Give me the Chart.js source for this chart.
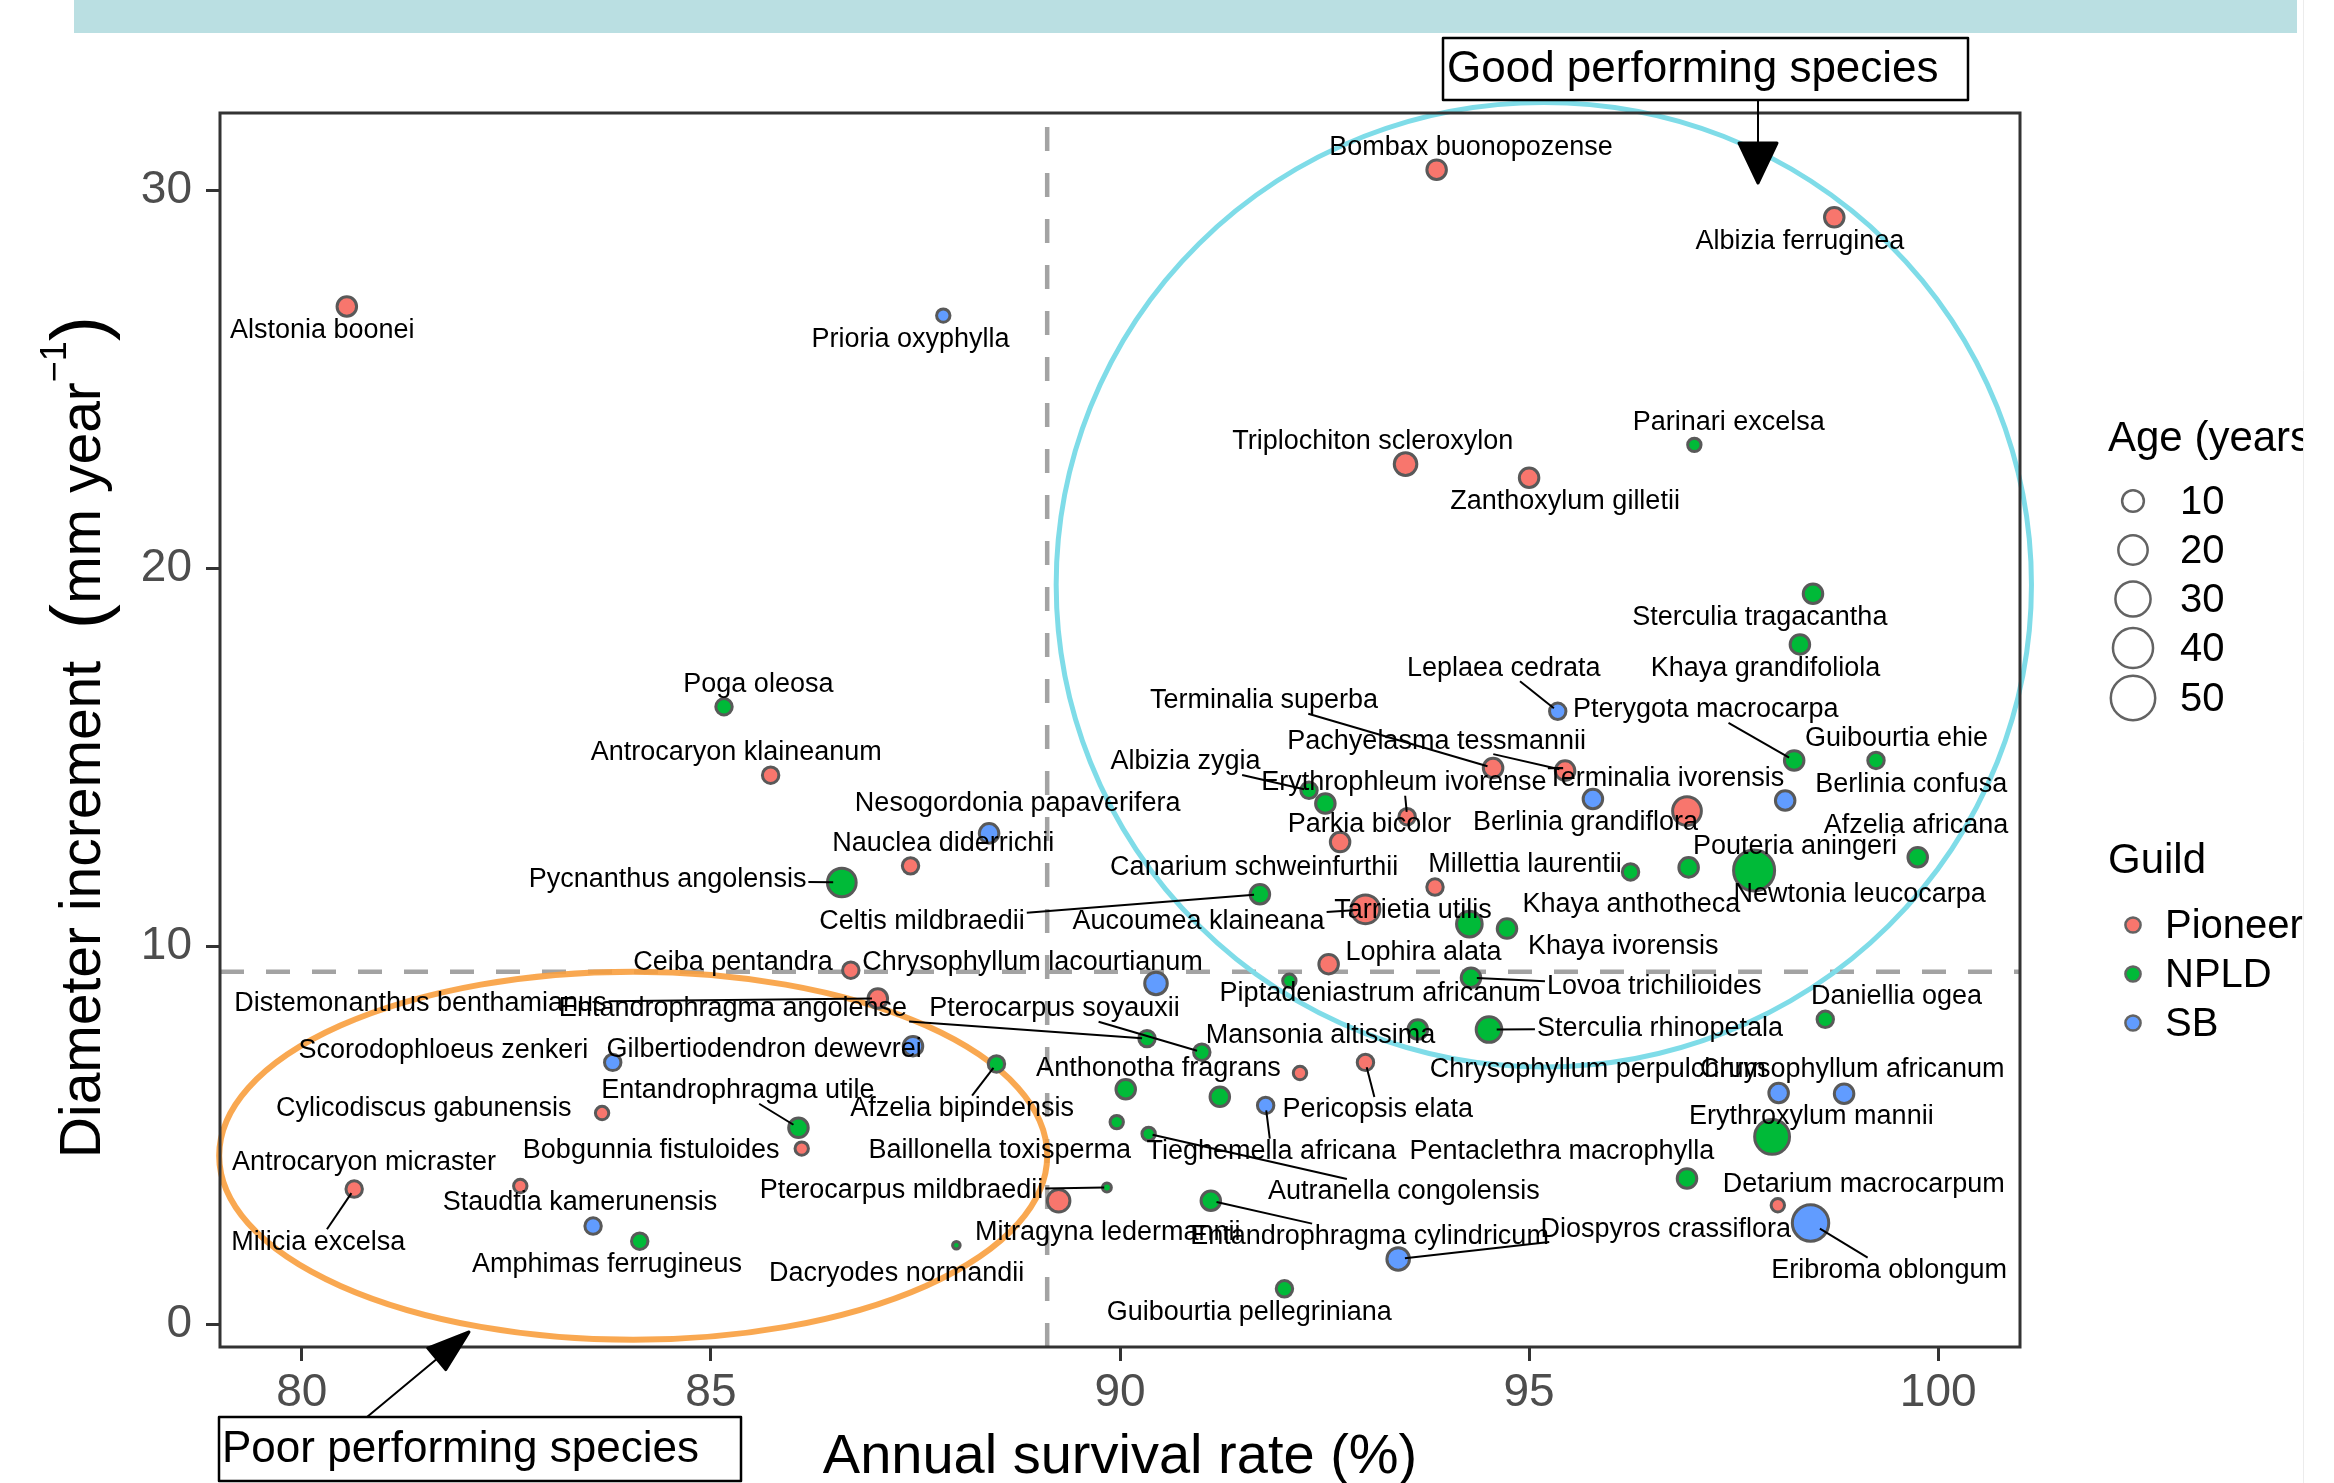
<!DOCTYPE html>
<html>
<head>
<meta charset="utf-8">
<script src="https://cdn.jsdelivr.net/npm/chart.js@4.4.1/dist/chart.umd.min.js"></script>
<style>
  html, body { margin: 0; padding: 0; background: #fff; }
</style>
</head>
<body>
<canvas id="growthChart" width="2334" height="1483"></canvas>
<script>
// species data
const species = [
  "Alstonia boonei", "Prioria oxyphylla", "Bombax buonopozense", "Albizia ferruginea", "Triplochiton scleroxylon",
  "Zanthoxylum gilletii", "Parinari excelsa", "Sterculia tragacantha", "Khaya grandifoliola", "Poga oleosa",
  "Antrocaryon klaineanum", "Nesogordonia papaverifera", "Nauclea diderrichii", "Pycnanthus angolensis", "Ceiba pentandra",
  "Distemonanthus benthamianus", "Entandrophragma angolense", "Pterocarpus soyauxii", "Mansonia altissima", "Sterculia rhinopetala",
  "Daniellia ogea", "Chrysophyllum lacourtianum", "Piptadeniastrum africanum", "Lophira alata", "Lovoa trichilioides",
  "Aucoumea klaineana", "Tarrietia utilis", "Khaya anthotheca", "Millettia laurentii", "Khaya ivorensis",
  "Pouteria aningeri", "Newtonia leucocarpa", "Afzelia africana", "Celtis mildbraedii", "Albizia zygia",
  "Canarium schweinfurthii", "Erythrophleum ivorense", "Parkia bicolor", "Terminalia superba", "Pachyelasma tessmannii",
  "Berlinia grandiflora", "Terminalia ivorensis", "Berlinia confusa", "Leplaea cedrata", "Pterygota macrocarpa",
  "Guibourtia ehie", "Gilbertiodendron dewevrei", "Scorodophloeus zenkeri", "Afzelia bipindensis", "Cylicodiscus gabunensis",
  "Entandrophragma utile", "Bobgunnia fistuloides", "Milicia excelsa", "Antrocaryon micraster", "Staudtia kamerunensis",
  "Amphimas ferrugineus", "Dacryodes normandii", "Mitragyna ledermannii", "Pterocarpus mildbraedii", "Anthonotha fragrans",
  "Baillonella toxisperma", "", "Pentaclethra macrophylla", "Pericopsis elata", "Tieghemella africana",
  "Autranella congolensis", "Entandrophragma cylindricum", "Guibourtia pellegriniana", "Diospyros crassiflora", "Detarium macrocarpum",
  "", "Eribroma oblongum", "Erythroxylum mannii", "Chrysophyllum perpulchrum", "Chrysophyllum africanum"
];
const survival = [
  80.55, 87.84, 93.87, 98.73, 93.49, 95.00, 97.02, 98.47, 98.31, 85.16,
  85.73, 88.40, 87.44, 86.60, 86.71, 87.04, 90.33, 91.00, 93.64, 94.51,
  98.62, 90.44, 92.07, 92.55, 94.29, 93.00, 94.27, 94.73, 93.85, 96.24,
  96.95, 97.75, 99.75, 91.71, 92.31, 92.51, 93.51, 92.69, 94.56, 95.44,
  95.78, 96.93, 98.13, 95.35, 98.24, 99.24, 87.47, 83.80, 88.49, 83.67,
  86.07, 86.11, 80.64, 82.67, 83.56, 84.13, 88.00, 89.25, 89.84, 90.07,
  89.96, 91.22, 92.20, 93.00, 91.78, 90.35, 91.11, 92.01, 93.40, 96.93,
  98.04, 98.44, 97.97, 98.05, 98.85
];
const diameter = [
  26.93, 26.69, 30.55, 29.29, 22.76, 22.40, 23.27, 19.33, 17.99, 16.34,
  14.53, 12.99, 12.13, 11.69, 9.37, 8.62, 7.56, 7.20, 7.80, 7.80,
  8.07, 9.02, 9.09, 9.53, 9.17, 10.98, 10.59, 10.47, 11.57, 11.97,
  12.09, 12.01, 12.36, 11.38, 14.13, 13.78, 13.43, 12.76, 14.72, 14.65,
  13.90, 13.58, 13.86, 16.22, 14.92, 14.92, 7.36, 6.93, 6.89, 5.59,
  5.20, 4.65, 3.58, 3.66, 2.60, 2.20, 2.09, 3.27, 3.62, 6.22,
  5.35, 6.02, 6.65, 6.93, 5.79, 5.04, 3.27, 0.94, 1.73, 3.86,
  3.15, 2.68, 4.96, 6.12, 6.10
];
const ageYears = [
  6.8, 2.4, 6.8, 6.8, 9.8, 6.8, 2.4, 6.8, 6.8, 4.3,
  4.3, 6.8, 4.3, 17.6, 4.3, 6.8, 4.3, 4.3, 6.8, 13.4,
  4.3, 9.8, 2.4, 6.8, 6.8, 17.6, 13.4, 6.8, 4.3, 4.3,
  6.8, 39.9, 6.8, 6.8, 4.3, 6.8, 4.3, 6.8, 6.8, 6.8,
  6.8, 17.6, 6.8, 4.3, 6.8, 4.3, 6.8, 4.3, 4.3, 2.4,
  6.8, 2.4, 4.3, 2.4, 4.3, 4.3, 0.3, 9.8, 0.6, 6.8,
  2.4, 6.8, 2.4, 4.3, 4.3, 2.4, 6.8, 4.3, 9.8, 6.8,
  2.4, 30.5, 27.6, 6.8, 6.8
];
const guild = [
  "Pioneer", "SB", "Pioneer", "Pioneer", "Pioneer", "Pioneer", "NPLD", "NPLD", "NPLD", "NPLD",
  "Pioneer", "SB", "Pioneer", "NPLD", "Pioneer", "Pioneer", "NPLD", "NPLD", "NPLD", "NPLD",
  "NPLD", "SB", "NPLD", "Pioneer", "NPLD", "Pioneer", "NPLD", "NPLD", "Pioneer", "NPLD",
  "NPLD", "NPLD", "NPLD", "NPLD", "NPLD", "NPLD", "Pioneer", "Pioneer", "Pioneer", "Pioneer",
  "SB", "Pioneer", "SB", "SB", "NPLD", "NPLD", "SB", "SB", "NPLD", "Pioneer",
  "NPLD", "Pioneer", "Pioneer", "Pioneer", "SB", "NPLD", "NPLD", "Pioneer", "NPLD", "NPLD",
  "NPLD", "NPLD", "Pioneer", "Pioneer", "SB", "NPLD", "NPLD", "NPLD", "SB", "NPLD",
  "Pioneer", "SB", "NPLD", "SB", "SB"
];

// where each species name sits (data units), and whether a leader line is drawn
const labelX = [
  80.25, 87.44, 94.29, 98.31, 93.09, 95.44, 97.44, 97.82, 97.89, 85.58,
  85.31, 88.75, 87.84, 84.47, 85.27, 81.45, 85.27, 89.20, 92.45, 96.60,
  99.49, 88.93, 93.18, 93.71, 96.53, 90.96, 93.58, 96.25, 94.95, 96.15,
  98.25, 99.04, 99.73, 87.58, 90.80, 91.64, 93.47, 93.05, 91.76, 93.87,
  95.69, 96.67, 99.67, 94.69, 97.16, 99.49, 85.65, 81.73, 88.07, 81.49,
  85.33, 84.27, 80.20, 80.76, 83.40, 83.73, 87.27, 89.85, 87.33, 90.47,
  88.53, 0, 95.40, 93.15, 91.85, 93.47, 93.05, 91.58, 96.67, 99.09,
  0, 99.40, 98.45, 95.84, 98.95
];
const labelY = [
  26.30, 26.06, 31.14, 28.66, 23.35, 21.77, 23.86, 18.70, 17.36, 16.93,
  15.12, 13.78, 12.72, 11.77, 9.57, 8.50, 8.35, 8.35, 7.64, 7.83,
  8.66, 9.57, 8.74, 9.84, 8.94, 10.67, 10.94, 11.10, 12.17, 10.00,
  12.64, 11.38, 13.19, 10.67, 14.88, 12.09, 14.33, 13.23, 16.50, 15.43,
  13.27, 14.45, 14.29, 17.36, 16.26, 15.51, 7.28, 7.24, 5.71, 5.71,
  6.18, 4.61, 2.17, 4.29, 3.23, 1.57, 1.34, 2.44, 3.54, 6.77,
  4.61, 0, 4.57, 5.67, 4.57, 3.50, 2.32, 0.31, 2.52, 3.70,
  0, 1.42, 5.51, 6.73, 6.73
];
const leaderLine = [
  0, 0, 0, 0, 0, 0, 0, 0, 0, 0,
  0, 0, 0, 1, 0, 1, 1, 1, 0, 1,
  0, 0, 0, 0, 1, 1, 0, 0, 0, 0,
  0, 0, 0, 1, 1, 0, 1, 0, 1, 1,
  0, 0, 0, 1, 1, 0, 0, 0, 1, 0,
  1, 0, 1, 0, 0, 0, 0, 0, 1, 0,
  0, 0, 0, 1, 1, 1, 1, 0, 1, 0,
  0, 1, 0, 0, 0
];

const xTicks = [80, 85, 90, 95, 100];
const yTicks = [0, 10, 20, 30];
const guildNames = ["Pioneer", "NPLD", "SB"];
const ageBreaks = [10, 20, 30, 40, 50];
const survivalCut = 89.11;
const diameterCut = 9.33;

const FONT = "'Liberation Sans', Arial, Helvetica, sans-serif";
const guildColors = { Pioneer: "#F8766D", NPLD: "#00BA38", SB: "#619CFF" };
const edgeGrey = "#595959";

function sizeFor(a) {
  return 2.2 + 2.9 * Math.sqrt(a);
}

const datasets = guildNames.map((g) => ({
  label: g,
  data: species
    .map((s, i) => ({ x: survival[i], y: diameter[i], age: ageYears[i], idx: i }))
    .filter((d) => guild[d.idx] === g),
  backgroundColor: guildColors[g],
  borderColor: edgeGrey,
  borderWidth: 3,
  pointRadius: (ctx) => (ctx.raw ? sizeFor(ctx.raw.age) : 5),
  pointHoverRadius: (ctx) => (ctx.raw ? sizeFor(ctx.raw.age) : 5)
}));

function arrowHead(ctx, x0, y0, x1, y1, len, half) {
  const a = Math.atan2(y1 - y0, x1 - x0);
  const bx = x1 - len * Math.cos(a), by = y1 - len * Math.sin(a);
  ctx.beginPath();
  ctx.moveTo(x1, y1);
  ctx.lineTo(bx + half * Math.sin(a), by - half * Math.cos(a));
  ctx.lineTo(bx - half * Math.sin(a), by + half * Math.cos(a));
  ctx.closePath();
  ctx.fill();
  ctx.stroke();
}

const decor = {
  id: "decor",
  beforeDraw(chart) {
    const ctx = chart.ctx;
    ctx.save();
    ctx.fillStyle = "#ffffff";
    ctx.fillRect(0, 0, chart.width, chart.height);
    ctx.fillStyle = "#BADFE2";
    ctx.fillRect(74, 0, 2223, 33);
    ctx.strokeStyle = "#ECECEC";
    ctx.lineWidth = 1;
    ctx.beginPath();
    ctx.moveTo(2303.5, 0);
    ctx.lineTo(2303.5, chart.height);
    ctx.stroke();
    ctx.restore();
  },
  beforeDatasetsDraw(chart) {
    const { ctx, chartArea: a, scales: { x, y } } = chart;
    ctx.save();
    ctx.strokeStyle = "#A3A3A3";
    ctx.lineWidth = 4.5;
    ctx.setLineDash([24, 22]);
    ctx.beginPath();
    ctx.moveTo(x.getPixelForValue(survivalCut), a.bottom);
    ctx.lineTo(x.getPixelForValue(survivalCut), a.top);
    ctx.moveTo(a.left, y.getPixelForValue(diameterCut));
    ctx.lineTo(a.right, y.getPixelForValue(diameterCut));
    ctx.stroke();
    ctx.setLineDash([]);

    // good / poor performer groupings
    const rings = [
      { cx: 95.18, cy: 19.57, rx: 5.96, ry: 12.76, color: "#7FDCE8", w: 5 },
      { cx: 84.05, cy: 4.46, rx: 5.06, ry: 4.87, color: "rgba(248,158,62,0.9)", w: 6 }
    ];
    rings.forEach((r) => {
      const px = x.getPixelForValue(r.cx), py = y.getPixelForValue(r.cy);
      const rx = x.getPixelForValue(r.cx + r.rx) - px;
      const ry = py - y.getPixelForValue(r.cy + r.ry);
      ctx.strokeStyle = r.color;
      ctx.lineWidth = r.w;
      ctx.beginPath();
      ctx.ellipse(px, py, rx, ry, 0, 0, Math.PI * 2);
      ctx.stroke();
    });
    ctx.restore();
  },
  afterDatasetsDraw(chart) {
    const { ctx, chartArea: a, scales: { x, y } } = chart;
    ctx.save();

    // species labels and leader lines
    ctx.font = `27px ${FONT}`;
    ctx.textAlign = "center";
    ctx.textBaseline = "middle";
    ctx.strokeStyle = "#000";
    ctx.lineWidth = 2;
    species.forEach((name, i) => {
      if (!name || !leaderLine[i]) return;
      const lx = x.getPixelForValue(labelX[i]), ly = y.getPixelForValue(labelY[i]);
      const px = x.getPixelForValue(survival[i]), py = y.getPixelForValue(diameter[i]);
      const hw = ctx.measureText(name).width / 2 + 2, hh = 13;
      const dx = px - lx, dy = py - ly;
      const t = Math.min(dx ? hw / Math.abs(dx) : 1e9, dy ? hh / Math.abs(dy) : 1e9);
      if (t >= 1) return;
      const d = Math.hypot(dx, dy), r = sizeFor(ageYears[i]);
      ctx.beginPath();
      ctx.moveTo(lx + dx * t, ly + dy * t);
      ctx.lineTo(px - (dx / d) * r * 0.6, py - (dy / d) * r * 0.6);
      ctx.stroke();
    });
    ctx.fillStyle = "#000";
    species.forEach((name, i) => {
      if (!name) return;
      ctx.fillText(name, x.getPixelForValue(labelX[i]), y.getPixelForValue(labelY[i]));
    });

    // panel frame
    ctx.strokeStyle = "#333333";
    ctx.lineWidth = 3;
    ctx.strokeRect(a.left, a.top, a.right - a.left, a.bottom - a.top);

    // axis titles
    ctx.fillStyle = "#000";
    ctx.font = `56px ${FONT}`;
    ctx.textAlign = "center";
    ctx.textBaseline = "alphabetic";
    ctx.fillText("Annual survival rate (%)", (a.left + a.right) / 2, 1473);

    ctx.save();
    ctx.translate(100, 737);
    ctx.rotate(-Math.PI / 2);
    const parts = [
      { t: "Diameter increment", f: 57, dy: 0 },
      { t: "  ", f: 57, dy: 0 },
      { t: "(", f: 76, dy: 4 },
      { t: "mm year", f: 57, dy: 0 },
      { t: "\u22121", f: 36, dy: -34 },
      { t: ")", f: 76, dy: 4 }
    ];
    let total = 0;
    parts.forEach((p) => { ctx.font = `${p.f}px ${FONT}`; p.w = ctx.measureText(p.t).width; total += p.w; });
    let cx = -total / 2;
    ctx.textAlign = "left";
    parts.forEach((p) => {
      ctx.font = `${p.f}px ${FONT}`;
      ctx.fillText(p.t, cx, p.dy);
      cx += p.w;
    });
    ctx.restore();

    // annotation boxes and arrows
    ctx.strokeStyle = "#000";
    ctx.fillStyle = "#000";
    ctx.lineWidth = 2.5;
    ctx.lineJoin = "round";
    ctx.strokeRect(1443, 38, 525, 62);
    ctx.strokeRect(219, 1417, 522, 64);
    ctx.font = `44px ${FONT}`;
    ctx.textAlign = "left";
    ctx.textBaseline = "middle";
    ctx.fillText("Good performing species", 1447, 70);
    ctx.fillText("Poor performing species", 222, 1450);
    ctx.lineWidth = 2;
    ctx.beginPath();
    ctx.moveTo(1758, 100);
    ctx.lineTo(1758, 150);
    ctx.moveTo(367, 1417);
    ctx.lineTo(450, 1348);
    ctx.stroke();
    ctx.lineWidth = 3;
    arrowHead(ctx, 1758, 100, 1758, 183, 40, 19);
    arrowHead(ctx, 367, 1417, 469, 1332, 42, 14);

    // legends
    ctx.save();
    ctx.beginPath();
    ctx.rect(2040, 380, 263, 700);
    ctx.clip();
    ctx.fillStyle = "#000";
    ctx.textAlign = "left";
    ctx.textBaseline = "alphabetic";
    ctx.font = `42px ${FONT}`;
    ctx.fillText("Age (years)", 2108, 451);
    ctx.fillText("Guild", 2108, 873);
    ctx.font = `40px ${FONT}`;
    ctx.textBaseline = "middle";
    const sizeRows = [501, 550, 599, 648, 698];
    ageBreaks.forEach((b, k) => {
      ctx.strokeStyle = "#636363";
      ctx.lineWidth = 2.5;
      ctx.beginPath();
      ctx.arc(2133, sizeRows[k], sizeFor(b) - 0.5, 0, Math.PI * 2);
      ctx.stroke();
      ctx.fillStyle = "#000";
      ctx.fillText(String(b), 2180, sizeRows[k] + 2);
    });
    const guildRows = [925, 974, 1023];
    guildNames.forEach((g, k) => {
      ctx.fillStyle = guildColors[g];
      ctx.strokeStyle = "#636363";
      ctx.lineWidth = 2.5;
      ctx.beginPath();
      ctx.arc(2133, guildRows[k], 7.6, 0, Math.PI * 2);
      ctx.fill();
      ctx.stroke();
      ctx.fillStyle = "#000";
      ctx.fillText(g, 2165, guildRows[k] + 2);
    });
    ctx.restore();

    ctx.restore();
  }
};

new Chart(document.getElementById("growthChart"), {
  type: "scatter",
  data: { datasets },
  options: {
    responsive: false,
    animation: false,
    devicePixelRatio: 1,
    layout: { padding: { left: 0, right: 314, top: 113, bottom: 0 } },
    plugins: {
      legend: { display: false },
      tooltip: { enabled: false }
    },
    scales: {
      x: {
        type: "linear",
        min: 79.0,
        max: 101.0,
        afterBuildTicks: (s) => { s.ticks = xTicks.map((v) => ({ value: v })); },
        afterFit: (s) => { s.height = 136; },
        border: { display: false },
        grid: { drawOnChartArea: false, drawTicks: true, tickLength: 14, tickColor: "#333333", tickWidth: 3 },
        ticks: { color: "#4D4D4D", font: { family: FONT, size: 46 }, padding: 5, maxRotation: 0 }
      },
      y: {
        type: "linear",
        min: -0.6,
        max: 32.05,
        afterBuildTicks: (s) => { s.ticks = yTicks.map((v) => ({ value: v })); },
        afterFit: (s) => { s.width = 220; },
        border: { display: false },
        grid: { drawOnChartArea: false, drawTicks: true, tickLength: 14, tickColor: "#333333", tickWidth: 3 },
        ticks: { color: "#4D4D4D", font: { family: FONT, size: 46 }, padding: 14 }
      }
    }
  },
  plugins: [decor]
});
</script>
</body>
</html>
